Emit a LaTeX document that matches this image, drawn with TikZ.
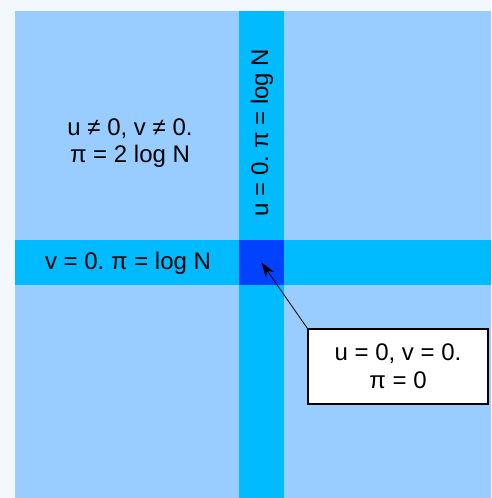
\documentclass[tikz,border=0pt]{standalone}
\usepackage{fontspec}
\setmainfont{Liberation Sans}
\frenchspacing
\usetikzlibrary{arrows.meta}
\definecolor{bgc}{RGB}{242,248,254}
\definecolor{lightb}{RGB}{153,204,255}
\definecolor{stripb}{RGB}{0,187,255}
\definecolor{cellb}{RGB}{0,66,255}
\tikzset{
  region/.style={inner sep=0pt, outer sep=0pt},
  lbl/.style={font=\fontsize{24}{27.5}\selectfont, align=center, inner sep=0pt},
  infobox/.style={draw=black, line width=1.2pt, fill=white, minimum width=180pt, minimum height=75pt, font=\fontsize{24}{28}\selectfont, align=center},
  pointer/.style={-{Stealth[length=15pt,width=10pt]}, line width=0.8pt}
}
\begin{document}
\begin{tikzpicture}[x=1pt,y=-1pt]
\useasboundingbox (0,0) rectangle (491,498);
\fill[bgc] (0,0) rectangle (491,498);
\node[region, fill=lightb, minimum width=476pt, minimum height=487pt] (plane) at (253,254.5) {};
\node[region, fill=stripb, minimum width=45pt, minimum height=487pt] (vstrip) at (261.5,254.5) {};
\node[region, fill=stripb, minimum width=476pt, minimum height=45pt] (hstrip) at (253,262.5) {};
\node[region, fill=cellb, minimum width=45pt, minimum height=45pt] (cell) at (261.5,262.5) {};
\node[lbl] (gen) at (130,143) {u ≠ 0, v ≠ 0.\\π = 2 log N};
\node[lbl] (hlab) at (128,263) {v = 0. π = log N};
\node[lbl, rotate=90] (vlab) at (262,132.5) {u = 0. π = log N};
\node[infobox] (box) at (398,366.5) {u = 0, v = 0.\\π = 0};
\draw[pointer] (box.north west) -- (cell.center);
\end{tikzpicture}
\end{document}
